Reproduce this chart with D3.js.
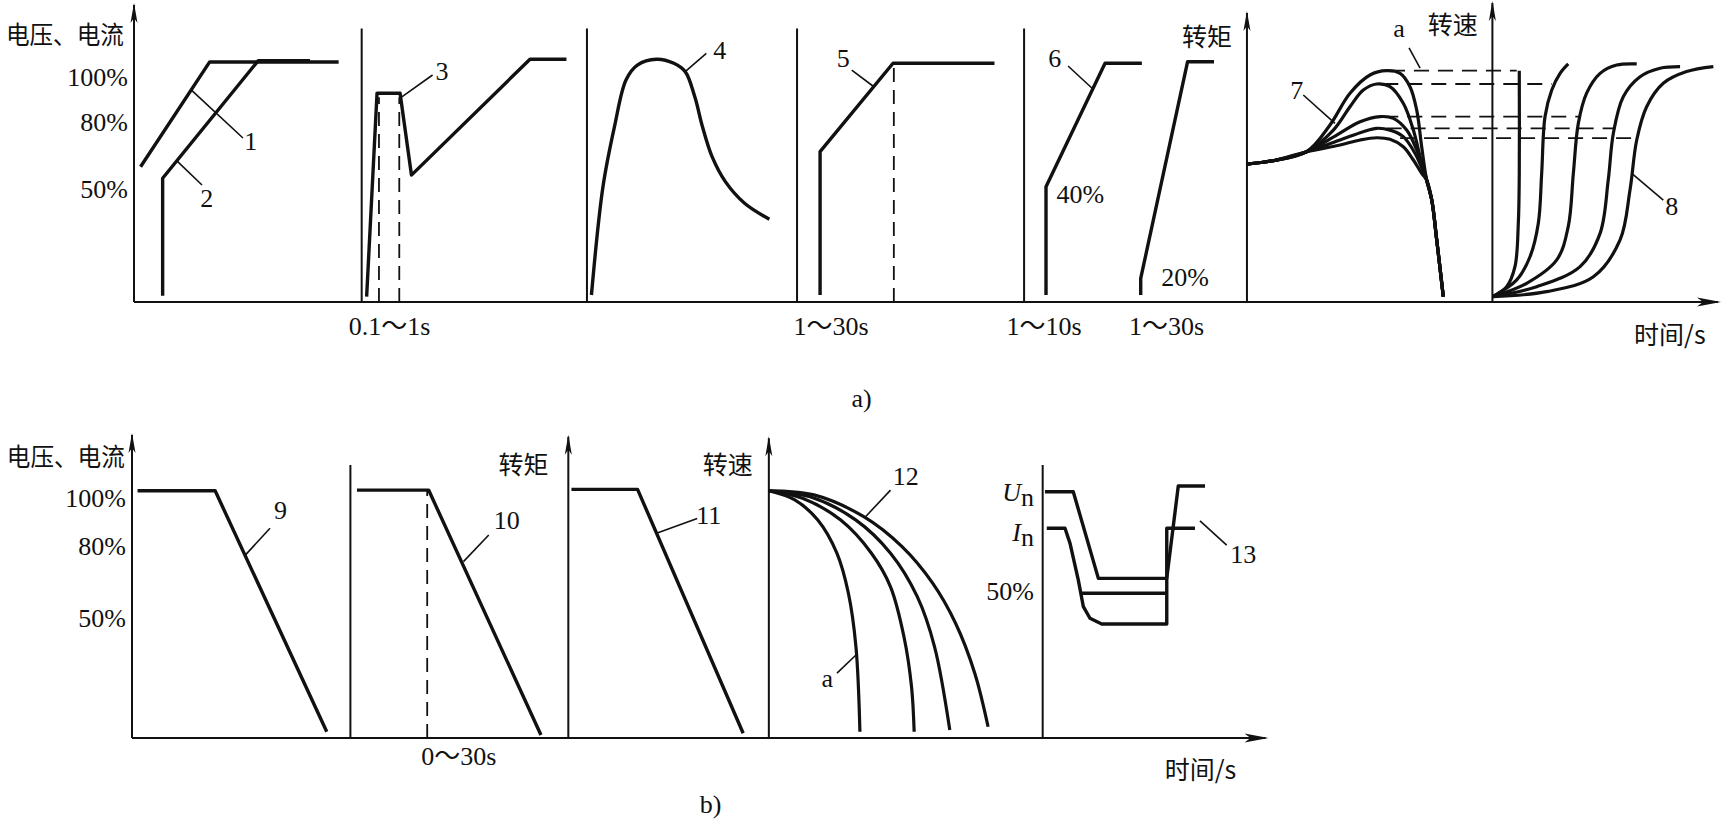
<!DOCTYPE html>
<meta charset="utf-8">
<script src="https://d3js.org/d3.v7.min.js"></script>
<style>
  body { margin: 0; background: white; }
  .num { font-family: "Liberation Serif", "Noto Sans CJK SC", serif; font-size: 26px; fill: #111; }
  .cjk { font-family: "Noto Sans CJK SC", sans-serif; font-size: 25px; fill: #111; }
</style>
<div id="chart"></div>
<script>
// ---------- row a) : start-up curves ----------
// x: time units across the row (0-100), y: percent
var aTicks = [100, 80, 50];
var aDividers = [14.23, 28.31, 41.44, 55.63];
var aArrowAxes = [[69.56, 128.4], [84.9, 132.9]];

var curve1 = [[0.41, 60.1], [4.73, 106.7], [12.79, 106.7]];
var curve2 = [[1.79, 2.8], [1.79, 55], [7.77, 107.3], [11.0, 107.3]];
var curve3 = [[14.54, 2.4], [15.19, 92.8], [16.63, 92.8], [17.34, 56.4], [24.75, 107.9], [27.03, 107.9]];
var curve3Dash = [[15.31, 91], [16.58, 91]];
var curve4 = [[28.59, 3.1], [29.31, 51.2], [30.03, 77.9], [30.75, 98.7], [31.46, 105.3], [32.66, 107.9],
  [33.74, 106.1], [34.45, 102.4], [35.05, 91.2], [35.53, 77.9], [36.13, 64.6], [36.96, 53.5],
  [38.16, 43.9], [39.71, 36.8]];
var curve5 = [[42.88, 3.1], [42.88, 66.8], [47.44, 106.1], [53.78, 106.1]];
var curve5Dash = [[47.49, 106]];
var curve6 = [[57.0, 3.1], [57.0, 51.2], [60.69, 106.1], [62.99, 106.1]];
var torque6 = [[62.92, 3.1], [62.92, 10.5], [65.85, 106.8], [67.5, 106.8]];

var c7Head = [[69.54, 61.3], [71.21, 62.8], [73.29, 66.8]];
var c7Tail = [[80.79, 54.2], [81.11, 45.3], [81.42, 27.6], [81.83, 2.4]];
var c7Peaks = [
  [[74.75, 78.7], [76.0, 92.8], [77.25, 100.9], [78.29, 102.8], [79.13, 101.6], [79.75, 95.7], [80.17, 85.3], [80.48, 69.0]],
  [[74.96, 76.4], [76.0, 86.8], [76.83, 94.2], [77.67, 96.9], [78.5, 95.7], [79.33, 88.3], [79.96, 76.4], [80.48, 61.6]],
  [[75.17, 74.2], [76.63, 80.1], [77.88, 82.4], [78.71, 81.6], [79.54, 76.4], [80.17, 67.6], [80.69, 57.2]],
  [[75.38, 72.0], [76.83, 75.7], [77.67, 77.2], [78.5, 76.4], [79.33, 73.5], [80.06, 66.1], [80.58, 57.9]],
  [[75.38, 69.8], [76.63, 72.0], [77.67, 73.0], [78.5, 72.3], [79.33, 69.0], [79.96, 63.1], [80.48, 57.2]]
];

var speedLevels = [102.8, 96.9, 82.4, 77.2, 72.8];
var levelFrom = [78.5, 78.08, 78.08, 78.29, 79.13];
var levelTo = [86.42, 88.61, 90.38, 92.46, 93.92];

var c8Origin = [84.92, 2.4];
var c8Curves = [
  [[85.79, 6.8], [86.31, 15.7], [86.52, 35.0], [86.58, 57.2], [86.58, 102.8]],
  [[86.42, 9.8], [87.25, 20.1], [87.77, 35.0], [87.98, 57.2], [88.19, 82.4], [88.61, 94.2], [89.13, 101.6], [89.64, 105.8]],
  [[87.04, 8.3], [88.92, 18.7], [89.64, 33.5], [89.96, 57.2], [90.27, 79.4], [90.79, 92.8], [91.63, 101.6], [92.67, 105.3], [93.92, 105.8]],
  [[87.67, 6.8], [90.38, 15.7], [91.63, 30.5], [92.14, 54.2], [92.46, 75.0], [93.08, 91.2], [94.13, 100.1], [95.38, 103.9], [96.63, 104.6]],
  [[88.29, 4.6], [91.21, 11.2], [92.88, 27.6], [93.5, 49.8], [93.92, 72.0], [94.54, 86.8], [95.58, 97.2], [97.04, 102.4], [98.71, 104.6]]
];

var aLeaders = [
  [[3.59, 94.2], [6.81, 72.9]], [[2.68, 62.7], [4.25, 52]], [[16.74, 91.2], [18.66, 100.9]],
  [[34.45, 102.4], [35.77, 110.5]], [[44.86, 103.1], [46.18, 96]], [[58.38, 104.9], [59.88, 95]],
  [[73.08, 92], [75.06, 79.4]], [[93.61, 57.2], [95.58, 45.3]], [[79.69, 112.9], [80.38, 103.9]]
];
var aNumbers = [[7.29, 71.2, "1"], [4.54, 46.2, "2"], [19.25, 102.4, "3"], [36.61, 112, "4"],
  [44.33, 108.3, "5"], [57.54, 108.3, "6"], [72.67, 94.2, "7"], [96.11, 42.4, "8"], [79.06, 121.6, "a"],
  [65.69, 11.1, "20%"], [45.47, -42.8, "a)"]];
var aTimes = [[15.98, "0.1～1s"], [43.56, "1～30s"], [56.88, "1～10s"], [64.54, "1～30s"]];

// ---------- row b) : stopping curves ----------
var bTicks = [100, 80, 50];
var bDividers = [18.2, 75.89];
var bArrowAxes = [[36.36, 125.5], [53.07, 124.9]];

var curve9 = [[0.46, 103], [6.93, 103], [16.23, 2.6]];
var curve10 = [[18.75, 103.3], [24.72, 103.3], [34.08, 1.25]];
var curve10Dash = [[24.6, 103]];
var curve11 = [[36.62, 103.6], [42.13, 103.6], [50.93, 2.0]];
var c12Start = [53.07, 103];
var c12Curves = [
  [[55.23, 99.2], [57.15, 90.8], [58.74, 77.0], [59.7, 60.3], [60.33, 38.0], [60.66, 2.6]],
  [[55.88, 99.9], [59.06, 90.8], [61.62, 77.0], [63.21, 63.0], [64.33, 42.2], [64.96, 21.4], [65.18, 2.6]],
  [[56.51, 100.5], [60.33, 90.8], [63.21, 77.0], [65.44, 58.9], [66.88, 38.0], [68.15, 3.3]],
  [[56.83, 101.3], [60.98, 92.2], [64.17, 79.7], [66.72, 64.5], [68.63, 47.8], [70.23, 27.0], [71.34, 4.7]]
];
var curveUn = [[76.08, 102.6], [78.44, 102.6], [80.53, 66.5], [86.23, 66.5], [87.19, 105], [89.42, 105]];
var curveIn = [[76.23, 87.4], [77.75, 87.4], [78.17, 81.1], [78.86, 65.8], [79.28, 54.7], [79.83, 49.9],
  [80.81, 47.5], [86.23, 47.5], [86.23, 87.4], [88.58, 87.4]];
var curveIn50 = [[79.07, 60.3], [86.23, 60.3]];

var bLeaders = [
  [[9.46, 76.3], [11.5, 87.4]], [[27.62, 73.5], [29.73, 84.6]], [[43.71, 85.3], [47.1, 91.5]],
  [[61.13, 92.2], [63.21, 103.3]], [[89.0, 90.5], [91.22, 80.4]], [[58.75, 27.0], [60.33, 34.6]]
];
var bNumbers = [[12.37, 95, "9"], [31.23, 90.8, "10"], [48.06, 92.9, "11"], [64.48, 108.9, "12"],
  [92.61, 76.3, "13"], [57.94, 24.9, "a"], [27.23, -7.8, "0～30s"], [48.21, -27.9, "b)"]];

// ---------- drawing ----------
var svg = d3.select("#chart").append("svg")
  .attr("width", 1721).attr("height", 821)
  .style("background", "white");

var xA = d3.scaleLinear().domain([0, 100]).range([134, 1734]);
var yA = d3.scaleLinear().domain([0, 100]).range([302, 77]);
var xB = d3.scaleLinear().domain([0, 100]).range([132, 1332]);
var yB = d3.scaleLinear().domain([0, 100]).range([738, 498]);

function line(x, y, curve) {
  return d3.line()
    .x(function(d) { return x(d[0]); })
    .y(function(d) { return y(d[1]); })
    .curve(curve || d3.curveLinear);
}

function stroke(g, pts, x, y, w, curve, dash) {
  var p = g.append("path")
    .attr("d", line(x, y, curve)(pts))
    .attr("fill", "none")
    .attr("stroke", "#111")
    .attr("stroke-width", w)
    .attr("stroke-linejoin", "round");
  if (dash) p.attr("stroke-dasharray", dash);
  return p;
}

function arrowUp(g, px, py) {
  g.append("path")
    .attr("d", "M" + px + "," + py + "L" + (px - 3.5) + "," + (py + 20) + "L" + px + "," + (py + 15) + "L" + (px + 3.5) + "," + (py + 20) + "Z")
    .attr("fill", "#111");
}
function arrowRight(g, px, py) {
  g.append("path")
    .attr("d", "M" + px + "," + py + "L" + (px - 24) + "," + (py - 4.5) + "L" + (px - 18) + "," + py + "L" + (px - 24) + "," + (py + 4.5) + "Z")
    .attr("fill", "#111");
}

function text(g, cls, px, py, s, anchor) {
  return g.append("text").attr("class", cls)
    .attr("x", px).attr("y", py)
    .attr("text-anchor", anchor || "middle")
    .attr("dominant-baseline", "central")
    .text(s);
}

function drawFrame(g, x, y, topMain, xEnd, dividers, dividerTop, arrowAxes, ticks) {
  // main vertical axis with arrow
  stroke(g, [[0, 0], [0, topMain]], x, y, 2);
  arrowUp(g, x(0), y(topMain) - 2);
  // time axis
  stroke(g, [[0, 0], [xEnd, 0]], x, y, 2.2);
  arrowRight(g, x(xEnd) + 3, y(0));
  dividers.forEach(function(t) { stroke(g, [[t, 0], [t, dividerTop]], x, y, 2); });
  arrowAxes.forEach(function(a) {
    stroke(g, [[a[0], 0], [a[0], a[1]]], x, y, 2);
    arrowUp(g, x(a[0]), y(a[1]) - 2);
  });
  ticks.forEach(function(v) { text(g, "num", x(0) - 6, y(v), v + "%", "end"); });
}

// y-axis title, squeezed to the width it has in the reference
function yTitle(g, px, py) {
  text(g, "cjk", px, py, "电压、电流", "end")
    .attr("textLength", 118)
    .attr("lengthAdjust", "spacingAndGlyphs");
}

// ---- row a
var ga = svg.append("g");
drawFrame(ga, xA, yA, 132, 99, aDividers, 121.6, aArrowAxes, aTicks);
yTitle(ga, xA(-0.63), yA(119.6));

[curve1, curve2, curve3, curve5, curve6, torque6].forEach(function(c) { stroke(ga, c, xA, yA, 3.4); });
stroke(ga, curve4, xA, yA, 3.4, d3.curveCatmullRom.alpha(0.5));
curve3Dash.forEach(function(d) { stroke(ga, [[d[0], 0], d], xA, yA, 1.8, null, "14,8"); });
curve5Dash.forEach(function(d) { stroke(ga, [[d[0], 0], d], xA, yA, 1.8, null, "14,8"); });

c7Peaks.forEach(function(pk) {
  stroke(ga, c7Head.concat(pk, c7Tail), xA, yA, 3.2, d3.curveCatmullRom.alpha(0.5));
});
speedLevels.forEach(function(v, i) {
  stroke(ga, [[levelFrom[i], v], [levelTo[i], v]], xA, yA, 1.8, null, "15,9");
});
c8Curves.forEach(function(c) {
  stroke(ga, [c8Origin].concat(c), xA, yA, 3.2, d3.curveCatmullRom.alpha(0.5));
});

aLeaders.forEach(function(l) { stroke(ga, l, xA, yA, 1.6); });
aNumbers.forEach(function(n) { text(ga, "num", xA(n[0]), yA(n[1]), n[2]); });
text(ga, "num", xA(57.66), yA(47.6), "40%", "start");
aTimes.forEach(function(t) { text(ga, "num", xA(t[0]), yA(-10.7), t[1]); });
text(ga, "cjk", xA(67.06), yA(118.7), "转矩");
text(ga, "cjk", xA(82.43), yA(123.9), "转速");
text(ga, "cjk", xA(95.99), yA(-13.9), "时间/s");

// ---- row b
var gb = svg.append("g");
drawFrame(gb, xB, yB, 126.3, 94.46, bDividers, 113.8, bArrowAxes, bTicks);
yTitle(gb, xB(-0.6), yB(117.9));

[curve9, curve10, curve11, curveUn, curveIn, curveIn50].forEach(function(c) { stroke(gb, c, xB, yB, 3.4); });
curve10Dash.forEach(function(d) { stroke(gb, [[d[0], 0], d], xB, yB, 1.8, null, "14,8"); });
c12Curves.forEach(function(c) {
  stroke(gb, [c12Start].concat(c), xB, yB, 3.2, d3.curveCatmullRom.alpha(0.5));
});

bLeaders.forEach(function(l) { stroke(gb, l, xB, yB, 1.6); });
bNumbers.forEach(function(n) { text(gb, "num", xB(n[0]), yB(n[1]), n[2]); });
text(gb, "cjk", xB(32.62), yB(114.5), "转矩");
text(gb, "cjk", xB(49.64), yB(114.5), "转速");
text(gb, "cjk", xB(89.04), yB(-12.6), "时间/s");
text(gb, "num", xB(75.17), yB(61), "50%", "end");

// U_n and I_n labels
[["U", 102.6], ["I", 86]].forEach(function(s) {
  var t = text(gb, "num", xB(75.17), yB(s[1]), "", "end");
  t.append("tspan").style("font-style", "italic").text(s[0]);
  t.append("tspan").attr("dy", 5).text("n");
});
</script>
